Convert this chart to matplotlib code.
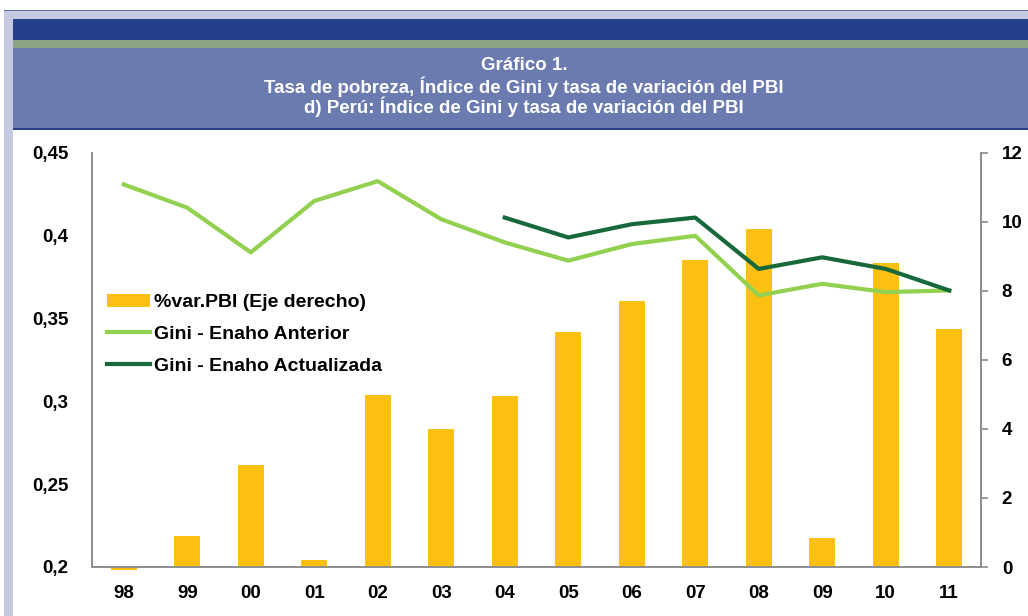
import matplotlib
matplotlib.use("Agg")
from matplotlib import pyplot as plt
from matplotlib.patches import Rectangle, Patch
from matplotlib.lines import Line2D
import numpy as np

# Data
years = ["98", "99", "00", "01", "02", "03", "04", "05", "06", "07", "08", "09", "10", "11"]
pbi_var = [-0.1, 0.9, 2.95, 0.2, 5.0, 4.0, 4.95, 6.8, 7.7, 8.9, 9.8, 0.85, 8.8, 6.9]
gini_anterior = [0.431, 0.417, 0.390, 0.421, 0.433, 0.410, 0.396, 0.385, 0.395, 0.400,
                 0.364, 0.371, 0.366, 0.367]
gini_actualizada = [None, None, None, None, None, None, 0.411, 0.399, 0.407, 0.411,
                    0.380, 0.387, 0.380, 0.367]

title_lines = ["Gráfico 1.",
               "Tasa de pobreza, Índice de Gini y tasa de variación del PBI",
               "d) Perú: Índice de Gini y tasa de variación del PBI"]

# Styling
W, H = 1028, 616
FONT = "Liberation Sans"
BAR_COLOR = "#FBC012"
LIGHT_GREEN = "#92D050"
DARK_GREEN = "#17683A"
SPINE_COLOR = "#8C8C8C"
TICK_SIZE = 13.5

plt.rcParams["font.family"] = [FONT, "DejaVu Sans"]
plt.rcParams["font.weight"] = "bold"

fig = plt.figure(figsize=(W / 100, H / 100), dpi=100)
fig.patch.set_facecolor("white")


def px_rect(x0, y0, x1, y1, color):
    """Rectangle given in pixel coords from the top-left corner."""
    fig.patches.append(Rectangle((x0 / W, 1 - y1 / H), (x1 - x0) / W, (y1 - y0) / H,
                                 transform=fig.transFigure, facecolor=color,
                                 edgecolor="none", zorder=0))


# Frame decoration
px_rect(4, 10, W, 19, "#C5CAE2")
px_rect(4, 10, 13, H, "#C5CAE2")
px_rect(4, 10, W, 11, "#5A6BB0")
px_rect(13, 19, W, 40, "#243F8C")
px_rect(13, 40, W, 48, "#8DA386")
px_rect(13, 48, W, 128, "#6B7BB0")
px_rect(13, 128, W, 130, "#2B3F86")

for txt, ypix in zip(title_lines, [66, 87, 107]):
    fig.text(0.51, 1 - ypix / H, txt, ha="center", va="center", color="white",
             fontsize=13.5, fontweight="bold")

# Axes
ax = fig.add_axes([92 / W, 1 - 567 / H, 889 / W, 414 / H])
ax2 = ax.twinx()
x = np.arange(len(years))

ax2.bar(x, pbi_var, width=0.41, color=BAR_COLOR, clip_on=False, zorder=2)
ax2.set_ylim(0, 12)
ax2.set_yticks(range(0, 13, 2))

gini_act = np.array([np.nan if v is None else v for v in gini_actualizada], dtype=float)
ax.plot(x, gini_anterior, color=LIGHT_GREEN, linewidth=3)
ax.plot(x, gini_act, color=DARK_GREEN, linewidth=3)
ax.set_ylim(0.2, 0.45)
ax.set_yticks([0.2, 0.25, 0.3, 0.35, 0.4, 0.45])
ax.set_yticklabels(["0,2", "0,25", "0,3", "0,35", "0,4", "0,45"])
ax.set_xlim(-0.5, len(years) - 0.5)
ax.set_xticks(x)
ax.set_xticklabels(years)

# Lines above bars
ax.set_zorder(ax2.get_zorder() + 1)
ax.patch.set_visible(False)

for a in (ax, ax2):
    a.spines["top"].set_visible(False)
    for s in ("left", "right", "bottom"):
        a.spines[s].set_color(SPINE_COLOR)
        a.spines[s].set_linewidth(1.2)

ax.tick_params(axis="y", length=0, pad=17, labelsize=TICK_SIZE)
ax.tick_params(axis="x", length=0, pad=13, labelsize=TICK_SIZE)
ax2.tick_params(axis="y", length=5, width=1.2, color=SPINE_COLOR, pad=10, labelsize=TICK_SIZE)

# Legend
handles = [Patch(facecolor=BAR_COLOR, edgecolor="none"),
           Line2D([], [], color=LIGHT_GREEN, linewidth=3),
           Line2D([], [], color=DARK_GREEN, linewidth=3)]
labels = ["%var.PBI (Eje derecho)", "Gini - Enaho Anterior", "Gini - Enaho Actualizada"]
ax.legend(handles, labels, loc="upper left", bbox_to_anchor=(0.017, 0.66),
          frameon=False, fontsize=14, handlelength=2.2, handletextpad=0.2,
          labelspacing=0.72, borderaxespad=0, borderpad=0)

fig.savefig("out.png", dpi=100)
